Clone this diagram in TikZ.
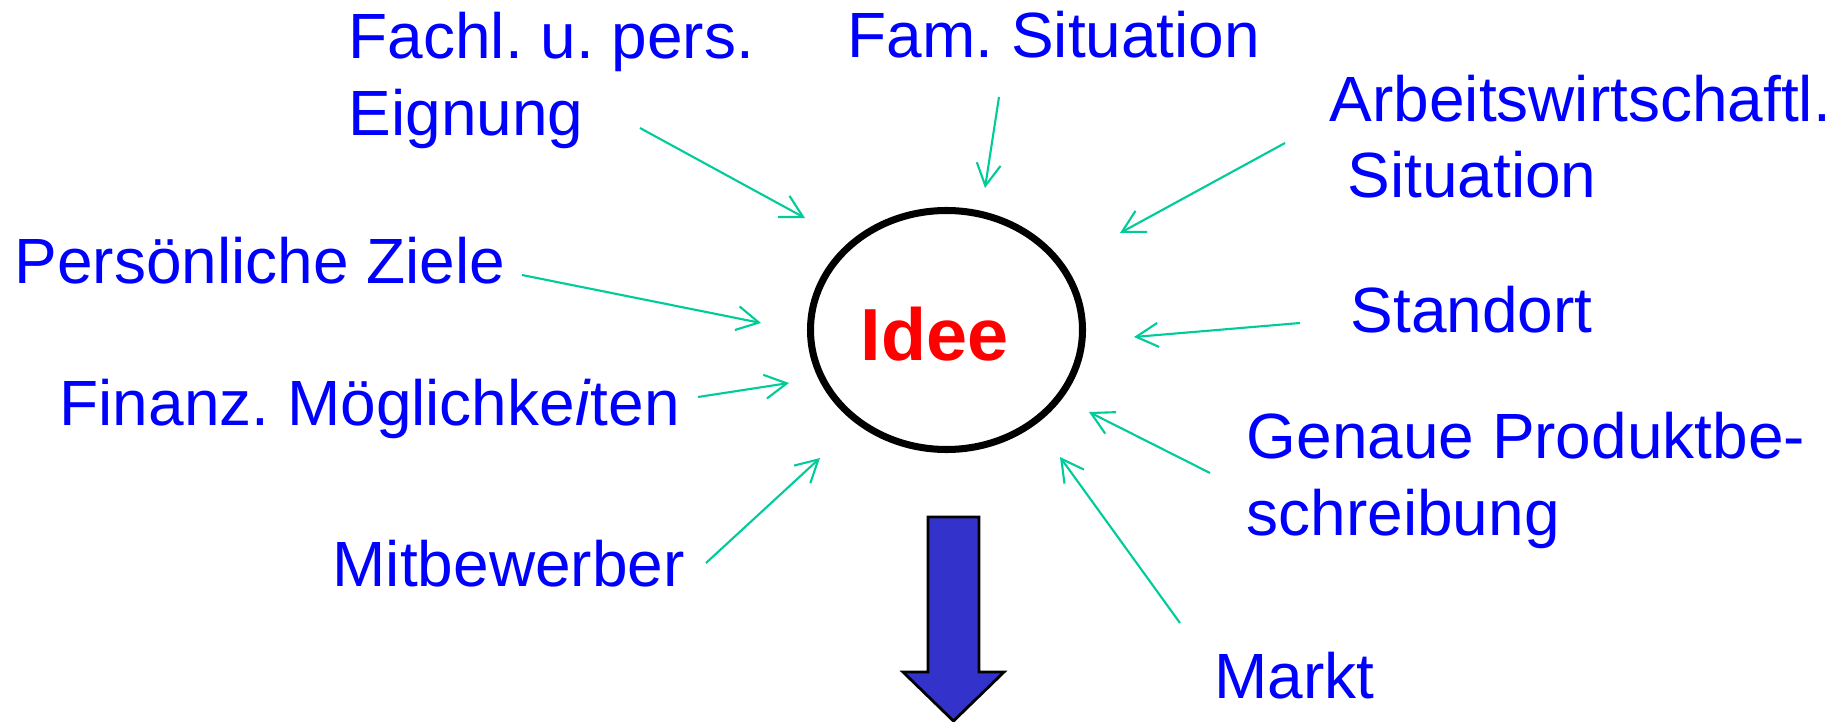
\documentclass[tikz,border=0pt]{standalone}
\usepackage{fontspec}
\setmainfont{Liberation Sans}
\frenchspacing
\usetikzlibrary{shapes.geometric,arrows.meta}
\definecolor{textblau}{RGB}{0,0,255}
\definecolor{pfeilgruen}{RGB}{0,204,153}
\definecolor{dunkelblau}{RGB}{51,51,204}
\tikzset{
  punkt/.style={anchor=base west,inner sep=0pt,align=left,text=textblau,
    font=\fontsize{18.2}{21.9}\selectfont},
  pfeil/.style={pfeilgruen,line width=0.6pt,-{Straight Barb[length=2.2mm,width=2.4mm]}}
}
\begin{document}
\begin{tikzpicture}
  \useasboundingbox (0,0) rectangle (18.38,7.21);
  % Idee in der Mitte
  \node[ellipse,draw,line width=2pt,minimum width=2.72cm,minimum height=2.39cm,inner sep=0pt] (idee) at (9.465,3.91) {};
  \node[anchor=base west,inner sep=0pt,text=red,font=\fontsize{21}{25}\selectfont\bfseries] (ideetext) at (8.60,3.60) {Idee};
  % Einflussfaktoren (base = letzte Zeile)
  \node[punkt] (fachl) at (3.48,5.86) {Fachl. u. pers.\\Eignung};
  \node[punkt] (fam) at (8.47,6.63) {Fam. Situation};
  \node[punkt] (arbeit) at (13.29,5.23) {Arbeitswirtschaftl.\\~Situation};
  \node[punkt] (standort) at (13.50,3.88) {Standort};
  \node[punkt] (ziele) at (0.14,4.38) {Persönliche Ziele};
  \node[punkt] (finanz) at (0.59,2.96) {Finanz. Möglichke\textit{i}ten};
  \node[punkt] (mitbew) at (3.32,1.35) {Mitbewerber};
  \node[punkt] (genaue) at (12.46,1.86) {Genaue Produktbe-\\schreibung};
  \node[punkt] (markt) at (12.14,0.23) {Markt};
  % Pfeilenden
  \coordinate (fachl-aus) at (6.40,5.93);   \coordinate (fachl-ein) at (8.05,5.03);
  \coordinate (fam-aus) at (9.99,6.24);     \coordinate (fam-ein) at (9.85,5.33);
  \coordinate (arbeit-aus) at (12.85,5.78); \coordinate (arbeit-ein) at (11.20,4.88);
  \coordinate (standort-aus) at (13.00,3.98); \coordinate (standort-ein) at (11.34,3.84);
  \coordinate (ziele-aus) at (5.22,4.46);   \coordinate (ziele-ein) at (7.61,3.98);
  \coordinate (finanz-aus) at (6.98,3.24);  \coordinate (finanz-ein) at (7.89,3.38);
  \coordinate (mitbew-aus) at (7.06,1.58);  \coordinate (mitbew-ein) at (8.20,2.63);
  \coordinate (genaue-aus) at (12.10,2.48); \coordinate (genaue-ein) at (10.89,3.09);
  \coordinate (markt-aus) at (11.80,0.98);  \coordinate (markt-ein) at (10.60,2.64);
  \draw[pfeil] (fachl-aus) -- (fachl-ein);
  \draw[pfeil] (fam-aus) -- (fam-ein);
  \draw[pfeil] (arbeit-aus) -- (arbeit-ein);
  \draw[pfeil] (standort-aus) -- (standort-ein);
  \draw[pfeil] (ziele-aus) -- (ziele-ein);
  \draw[pfeil] (finanz-aus) -- (finanz-ein);
  \draw[pfeil] (mitbew-aus) -- (mitbew-ein);
  \draw[pfeil] (genaue-aus) -- (genaue-ein);
  \draw[pfeil] (markt-aus) -- (markt-ein);
  % dicker Pfeil nach unten
  \draw[fill=dunkelblau,line width=0.8pt] (9.28,2.04) -- (9.28,0.49) -- (9.03,0.49) -- (9.535,0)
    -- (10.04,0.49) -- (9.79,0.49) -- (9.79,2.04) -- cycle;
\end{tikzpicture}
\end{document}
